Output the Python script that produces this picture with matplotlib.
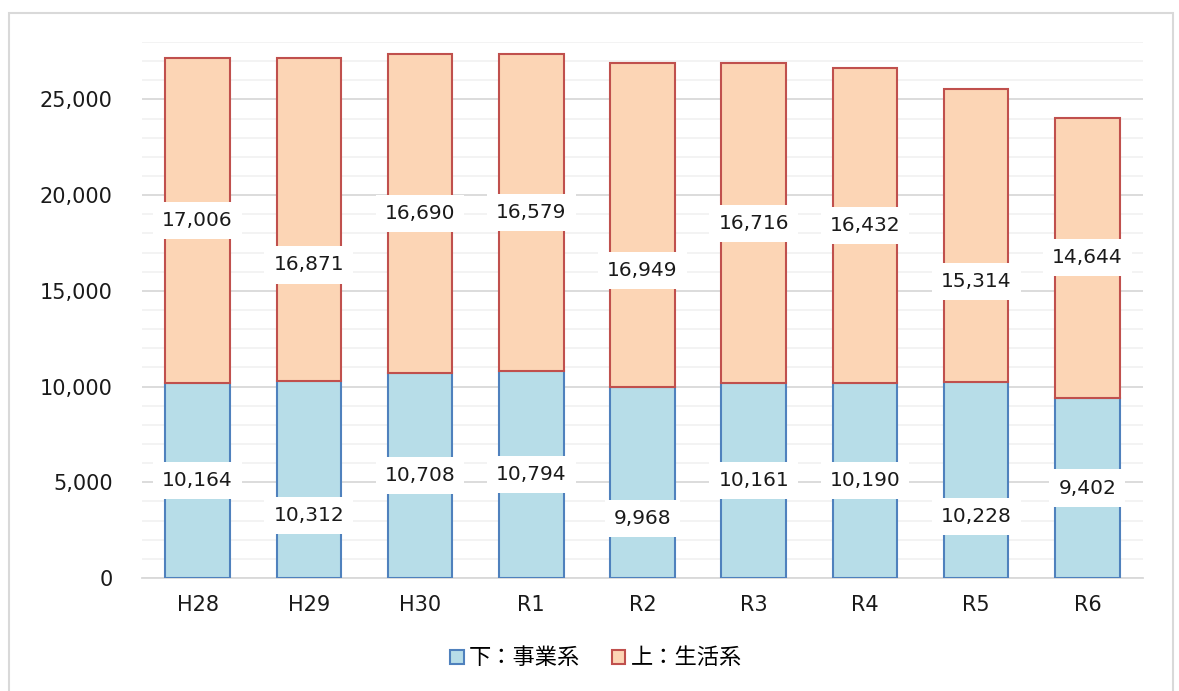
import numpy as np
import matplotlib.pyplot as plt
from matplotlib.patches import Rectangle, Patch

plt.rcParams['font.family'] = ['DejaVu Sans', 'Noto Sans CJK JP']

years = ['H28', 'H29', 'H30', 'R1', 'R2', 'R3', 'R4', 'R5', 'R6']
jigyo = [10164, 10312, 10708, 10794, 9968, 10161, 10190, 10228, 9402]
seikatsu = [17006, 16871, 16690, 16579, 16949, 16716, 16432, 15314, 14644]
# bars whose labels are pushed down to stay clear of neighbours
stagger = [0, 1, 0, 0, 1, 0, 0, 1, 0]

blue_fill, blue_edge = '#B7DDE8', '#4F81BD'
peach_fill, peach_edge = '#FCD5B5', '#C0504D'

fig = plt.figure(figsize=(11.79, 6.91), dpi=100)
fig.patches.append(Rectangle((9 / 1179, -0.05), 1164 / 1179, 1.05 - 13 / 691,
                             transform=fig.transFigure, fill=False,
                             edgecolor='#D9D9D9', linewidth=1.5))
ax = fig.add_axes([142 / 1179, 1 - 578 / 691, 1001 / 1179, 536 / 691])

x = np.arange(len(years))
w = 0.58
ax.bar(x, jigyo, w, color=blue_fill, edgecolor=blue_edge, linewidth=1.5, zorder=3)
ax.bar(x, seikatsu, w, bottom=jigyo, color=peach_fill, edgecolor=peach_edge,
       linewidth=1.5, zorder=3)

box = dict(boxstyle='square,pad=0.45', facecolor='white', edgecolor='none')
for i in x:
    drop_b = -26 if stagger[i] else 0
    drop_t = -33 if stagger[i] else 0
    ax.annotate(f'{jigyo[i]:,}', (i, jigyo[i] / 2), xytext=(0, drop_b),
                textcoords='offset points', ha='center', va='center',
                fontsize=14.5, color='#1a1a1a', bbox=box, zorder=5)
    ax.annotate(f'{seikatsu[i]:,}', (i, jigyo[i] + seikatsu[i] / 2),
                xytext=(0, drop_t), textcoords='offset points',
                ha='center', va='center', fontsize=14.5, color='#1a1a1a',
                bbox=box, zorder=5)

ax.set_xlim(-0.5, len(years) - 0.5)
ax.set_ylim(0, 28000)
ax.set_yticks(np.arange(0, 25001, 5000))
ax.set_yticks(np.arange(0, 28001, 1000), minor=True)
ax.set_yticklabels([f'{v:,}' for v in range(0, 25001, 5000)])
ax.grid(axis='y', which='major', color='#D9D9D9', linewidth=1.3, zorder=0)
ax.grid(axis='y', which='minor', color='#F2F2F2', linewidth=1.3, zorder=0)
ax.tick_params(axis='y', which='both', length=0, labelsize=15, pad=21,
               labelcolor='#1a1a1a')
ax.set_xticks(x)
ax.set_xticklabels(years)
ax.tick_params(axis='x', length=0, labelsize=15, pad=12, labelcolor='#1a1a1a')
for side in ['top', 'right', 'left']:
    ax.spines[side].set_visible(False)
ax.spines['bottom'].set_color('#D9D9D9')
ax.spines['bottom'].set_linewidth(1.3)

handles = [Patch(facecolor=blue_fill, edgecolor=blue_edge, linewidth=1.5),
           Patch(facecolor=peach_fill, edgecolor=peach_edge, linewidth=1.5)]
fig.legend(handles, ['下：事業系', '上：生活系'], loc='center',
           bbox_to_anchor=(596 / 1179, 1 - 658 / 691), ncol=2, frameon=False,
           prop={'family': ['Noto Sans CJK JP'], 'size': 16},
           handlelength=0.6, handleheight=0.6, handletextpad=0.25,
           columnspacing=1.4)

fig.savefig('out.png', dpi=100)
